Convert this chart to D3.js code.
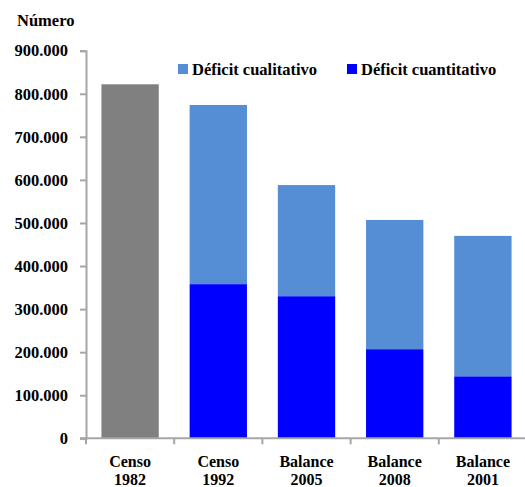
<!DOCTYPE html>
<html><head><meta charset="utf-8">
<script src="https://cdn.jsdelivr.net/npm/d3@7"></script>
<style>body{margin:0;background:#fff}svg{display:block}</style>
</head><body><svg id="c" width="525" height="487"></svg>
<script>
const categories = ["Censo|1982","Censo|1992","Balance|2005","Balance|2008","Balance|2001"];
const total1982 = [822000, null, null, null, null];
const cuantitativo = [null, 358000, 330000, 207000, 144000];
const cualitativo = [null, 416000, 258000, 300000, 326000];
const yTicks = [0,100000,200000,300000,400000,500000,600000,700000,800000,900000];
const seriesNames = ["Déficit cualitativo","Déficit cuantitativo"];
const colors = {gray:"#808080", cual:"#558ED5", cuant:"#0000FF", axis:"#A6A6A6"};

const svg = d3.select("#c");
const x = d3.scaleBand().domain(categories).range([86, 527]).paddingInner(0.35).paddingOuter(0.175);
const y = d3.scaleLinear().domain([0, 900000]).range([438.3, 50.7]);

function styleText(sel, size){
  return sel.attr("font-family", "Liberation Serif").attr("font-weight","bold").attr("font-size", size).attr("fill","#000");
}

// bars
const g = svg.append("g");
categories.forEach((c,i)=>{
  if (total1982[i] != null) {
    g.append("rect").attr("x", x(c)).attr("width", x.bandwidth())
      .attr("y", y(total1982[i])).attr("height", y(0)-y(total1982[i])).attr("fill", colors.gray);
  }
  if (cuantitativo[i] != null) {
    g.append("rect").attr("x", x(c)).attr("width", x.bandwidth())
      .attr("y", y(cuantitativo[i])).attr("height", y(0)-y(cuantitativo[i])).attr("fill", colors.cuant);
    const top = cuantitativo[i] + cualitativo[i];
    g.append("rect").attr("x", x(c)).attr("width", x.bandwidth())
      .attr("y", y(top)).attr("height", y(cuantitativo[i])-y(top)).attr("fill", colors.cual);
  }
});

// y axis
const fmt = v => d3.format(",")(v).replace(/,/g, ".");
const ya = svg.append("g").attr("transform","translate(86,0)")
  .call(d3.axisLeft(y).tickValues(yTicks).tickFormat(fmt).tickSize(6).tickPadding(12));
ya.attr("font-family", "Liberation Serif");
ya.select(".domain").attr("stroke", colors.axis).attr("stroke-width", 2);
ya.selectAll(".tick line").attr("stroke", colors.axis).attr("stroke-width", 2);
styleText(ya.selectAll(".tick text"), 16.5);

// x axis
const xa = svg.append("g").attr("transform","translate(0,438.3)");
xa.append("line").attr("x1", 80).attr("x2", 527).attr("y1",0).attr("y2",0).attr("stroke", colors.axis).attr("stroke-width", 2);
const bounds = categories.map(c => x(c) - x.step()*x.paddingInner()/2);
bounds[0] = 86;
bounds.concat([527]).forEach(b=>{
  xa.append("line").attr("x1", b).attr("x2", b).attr("y1",0).attr("y2",6).attr("stroke", colors.axis).attr("stroke-width", 2);
});
categories.forEach(c=>{
  const [a,b] = c.split("|");
  const cx = x(c)+x.bandwidth()/2;
  const t = styleText(xa.append("text").attr("text-anchor","middle"), 16);
  t.append("tspan").attr("x", cx).attr("y", 29).text(a);
  t.append("tspan").attr("x", cx).attr("y", 46.5).text(b);
});

// y title
styleText(svg.append("text").attr("x", 17).attr("y", 26), 16.5).text("Número");

// legend
const leg = [{n:seriesNames[0], c:colors.cual, x:178}, {n:seriesNames[1], c:colors.cuant, x:347}];
leg.forEach(l=>{
  svg.append("rect").attr("x", l.x).attr("y", 64).attr("width", 10).attr("height", 10).attr("fill", l.c);
  styleText(svg.append("text").attr("x", l.x+14).attr("y", 75), 16.5).text(l.n);
});
</script></body></html>
